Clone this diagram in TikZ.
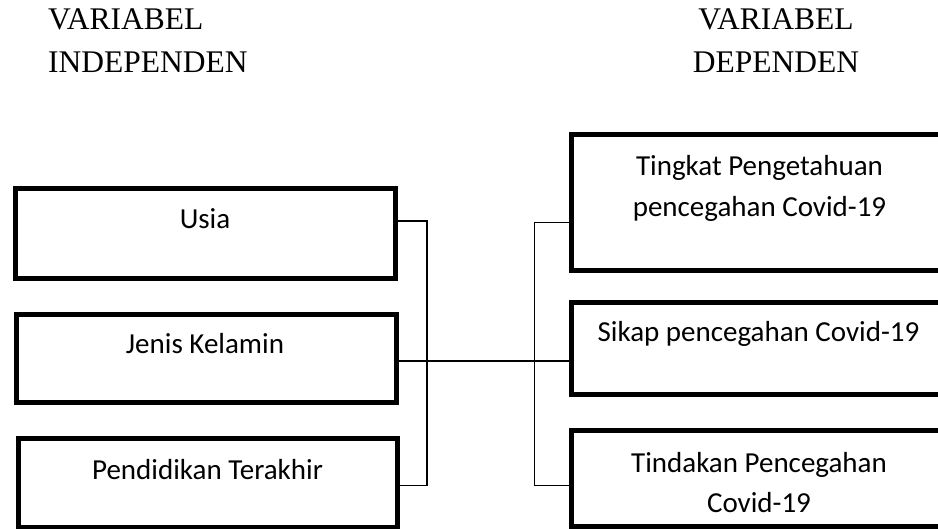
\documentclass[tikz,border=0pt]{standalone}
\usepackage{fontspec}
\setmainfont{Carlito}
\newfontfamily\titlefont{Liberation Serif}
\begin{document}
\begin{tikzpicture}[x=1pt,y=-1pt,
  box/.style={draw=black,line width=5pt,inner sep=0pt,fill=none},
  txt/.style={font=\fontsize{29}{41}\selectfont,anchor=base,inner sep=0pt},
  ttl/.style={font=\titlefont\fontsize{31.5}{38}\selectfont,inner sep=0pt},
  conn/.style={draw=black,line width=1.5pt}]
\useasboundingbox (0,0) rectangle (938,529);
\clip (0,0) rectangle (938,529);
% titles
\node[ttl,anchor=base west] (t1) at (48,30) {VARIABEL};
\node[ttl,anchor=base west] (t2) at (48,72.5) {INDEPENDEN};
\node[ttl,anchor=base] (t3) at (776,30) {VARIABEL};
\node[ttl,anchor=base] (t4) at (776,72.5) {DEPENDEN};
% left boxes
\node[box,minimum width=380pt,minimum height=90pt] (b1) at (205,234) {};
\node[box,minimum width=380pt,minimum height=88pt] (b2) at (206,359) {};
\node[box,minimum width=379pt,minimum height=88pt] (b3) at (207.5,483) {};
\node[txt] (tb1) at (205,229) {Usia};
\node[txt] (tb2) at (205,354) {Jenis Kelamin};
\node[txt] (tb3) at (207.5,479) {Pendidikan Terakhir};
% right boxes
\node[box,minimum width=379pt,minimum height=135.5pt] (r1) at (760.5,202.75) {};
\node[box,minimum width=379pt,minimum height=92.5pt] (r2) at (760.5,348.75) {};
\node[box,minimum width=379pt,minimum height=95.5pt] (r3) at (760.5,478.75) {};
\node[txt] (tr1a) at (759.5,176) {Tingkat Pengetahuan};
\node[txt] (tr1b) at (759.5,217) {pencegahan Covid-19};
\node[txt] (tr2) at (758.5,342) {Sikap pencegahan Covid-19};
\node[txt] (tr3a) at (759,472) {Tindakan Pencegahan};
\node[txt] (tr3b) at (759,512) {Covid-19};
% connectors
\coordinate (L) at (427,361);
\coordinate (R) at (534.3,361);
\draw[conn] ([yshift=13pt]b1.east) -| (L) |- ([yshift=-2.5pt]b3.east);
\draw[conn] ([yshift=-2pt]b2.east) -- (L) -- (R);
\draw[conn] ([yshift=-20pt]r1.west) -| (R) |- ([yshift=-7pt]r3.west);
\draw[conn] (R) -- ([yshift=-12.25pt]r2.west);
\end{tikzpicture}
\end{document}
